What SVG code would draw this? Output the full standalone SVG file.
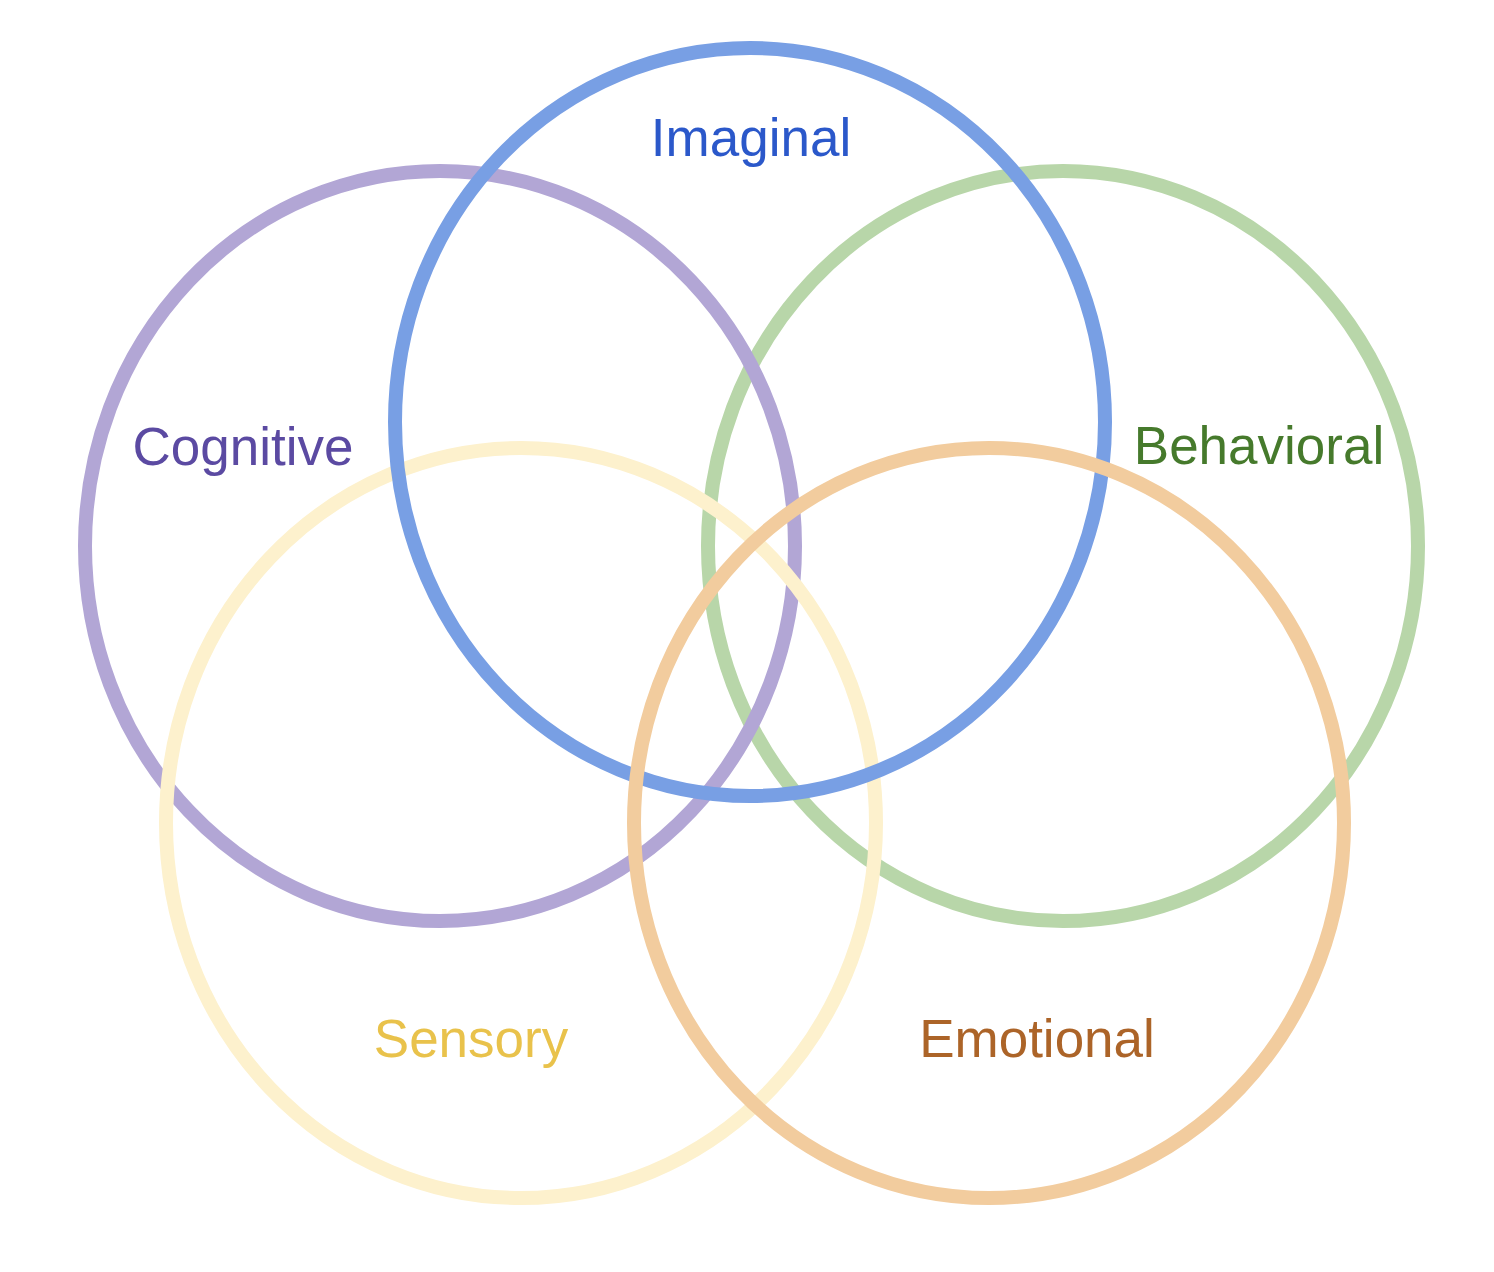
<svg xmlns="http://www.w3.org/2000/svg" width="1494" height="1272" viewBox="0 0 1494 1272">
<style>
.ring{fill:none;stroke-width:14}
.lbl{font-family:"Liberation Sans",Arial,sans-serif;font-size:53px;text-anchor:middle}
</style>
<rect width="1494" height="1272" fill="#ffffff"/>
<g id="behavioral"><ellipse class="ring" cx="1063" cy="546" rx="355" ry="375" stroke="#b8d6a9"/><text class="lbl" x="1259" y="464" fill="#467a2c">Behavioral</text></g>
<g id="cognitive"><ellipse class="ring" cx="440" cy="546" rx="355" ry="375" stroke="#b2a6d5"/><text class="lbl" x="243" y="465" fill="#5b4aa2">Cognitive</text></g>
<g id="sensory"><ellipse class="ring" cx="521" cy="823" rx="355" ry="375" stroke="#fdf1cd"/><text class="lbl" x="471" y="1057" fill="#e9c24b">Sensory</text></g>
<g id="imaginal"><ellipse class="ring" cx="750" cy="422" rx="355" ry="374" stroke="#789fe4"/><text class="lbl" x="751" y="156" fill="#2b58ca">Imaginal</text></g>
<g id="emotional"><ellipse class="ring" cx="989" cy="823" rx="355" ry="375" stroke="#f2cc9e"/><text class="lbl" x="1037" y="1057" fill="#ac6428">Emotional</text></g>
<g id="connectors"></g>
</svg>
